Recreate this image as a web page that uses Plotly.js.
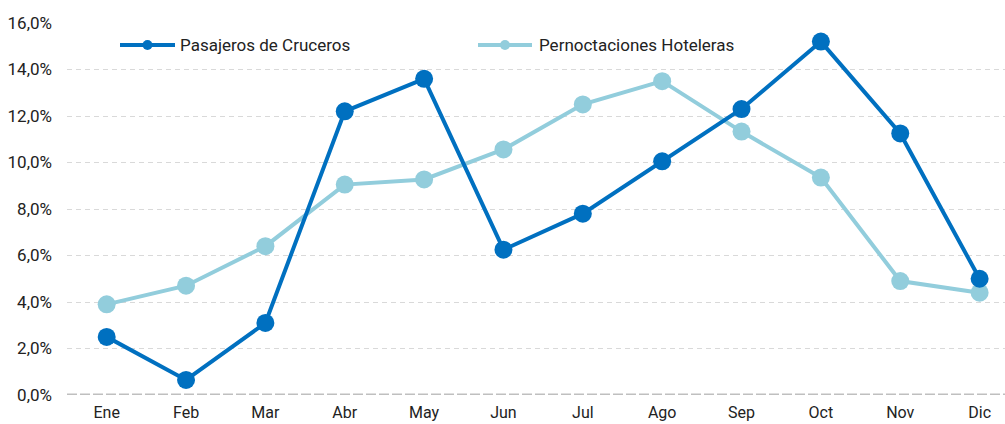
<!DOCTYPE html>
<html>
<head>
<meta charset="utf-8">
<script src="https://cdn.plot.ly/plotly-3.0.1.min.js"></script>
<style>html,body{margin:0;padding:0;background:#fff}#chart{width:1005px;height:424px}</style>
</head>
<body>
<div id="chart"></div>
<script>
var months = ["Ene","Feb","Mar","Abr","May","Jun","Jul","Ago","Sep","Oct","Nov","Dic"];
var cruceros = [2.5, 0.65, 3.1, 12.2, 13.6, 6.25, 7.8, 10.05, 12.3, 15.2, 11.25, 5.0];
var hoteleras = [3.9, 4.7, 6.4, 9.05, 9.27, 10.56, 12.5, 13.5, 11.33, 9.35, 4.9, 4.4];
var yTicks = [0,2,4,6,8,10,12,14,16];
var yTickText = ["0,0%","2,0%","4,0%","6,0%","8,0%","10,0%","12,0%","14,0%","16,0%"];
var names = ["Pasajeros de Cruceros","Pernoctaciones Hoteleras"];

var c1 = "#0070C0", c2 = "#92CDDC";
var font = "Roboto, 'Liberation Sans', sans-serif";

var traces = [
  {x: months, y: hoteleras, type:"scatter", mode:"lines+markers", showlegend:false,
   line:{color:c2, width:4}, marker:{color:c2, size:18}},
  {x: months, y: cruceros, type:"scatter", mode:"lines+markers", showlegend:false,
   line:{color:c1, width:4}, marker:{color:c1, size:18}}
];

// plot area in px: x 67..1005, y 23..395
var W = 938, H = 372;
function px(x){ return (x - 67) / W; }
function py(y){ return (395 - y) / H; }
var legY = py(45);
var legItems = [
  {name:names[0], color:c1, x0:120, x1:175, text:178},
  {name:names[1], color:c2, x0:478, x1:532, text:537}
];
var shapes = [
  {type:"line", xref:"paper", yref:"y", x0:0, x1:1, y0:0, y1:0, layer:"below",
   line:{color:"#bfbfbf", width:3, dash:"10px,3px"}}
];
var annotations = [];
legItems.forEach(function(it){
  shapes.push({type:"line", xref:"paper", yref:"paper", x0:px(it.x0), x1:px(it.x1), y0:legY, y1:legY,
    line:{color:it.color, width:4}});
  var cx = (it.x0 + it.x1) / 2;
  shapes.push({type:"circle", xref:"paper", yref:"paper", x0:px(cx-5), x1:px(cx+5),
    y0:py(45+5), y1:py(45-5), fillcolor:it.color, line:{color:it.color, width:0}});
  annotations.push({xref:"paper", yref:"paper", x:px(it.text), y:legY, xanchor:"left", yanchor:"middle",
    text:it.name, showarrow:false, font:{size:17, color:"#222"}});
});

var layout = {
  width:1005, height:424,
  margin:{l:67, r:0, t:23, b:29},
  paper_bgcolor:"#fff", plot_bgcolor:"#fff",
  font:{family:font, size:16, color:"#222"},
  showlegend:false,
  shapes:shapes,
  annotations:annotations,
  xaxis:{type:"category", categoryarray:months, range:[-0.5, 11.32],
         showgrid:false, zeroline:false, showline:false, ticks:"",
         ticklabelstandoff:6,
         tickfont:{size:16, color:"#222"}, fixedrange:true},
  yaxis:{range:[0,16], tickvals:yTicks, ticktext:yTickText,
         showgrid:true, gridcolor:"#d9d9d9", griddash:"5px,4px", gridwidth:1,
         zeroline:false,
         showline:false, ticks:"", ticklabelstandoff:14, tickfont:{size:17, color:"#222"},
         automargin:false, fixedrange:true}
};

Plotly.newPlot("chart", traces, layout, {displayModeBar:false, staticPlot:true});
</script>
</body>
</html>
